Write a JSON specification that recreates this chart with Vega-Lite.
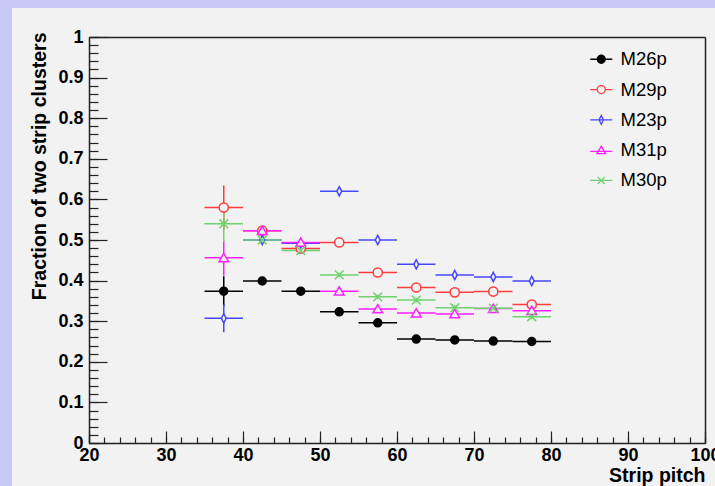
{
  "$schema": "https://vega.github.io/schema/vega-lite/v6.json",
  "width": 703,
  "height": 478,
  "padding": {"left": 12, "top": 8, "right": 0, "bottom": 0},
  "autosize": {"type": "none"},
  "background": "#c9c9f9",
  "data": {
    "values": [
      {"series": "M26p", "pitch": 37.5, "frac": 0.374, "xerr": 2.5, "yerr": 0.037},
      {"series": "M26p", "pitch": 42.5, "frac": 0.399, "xerr": 2.5, "yerr": 0.006},
      {"series": "M26p", "pitch": 47.5, "frac": 0.374, "xerr": 2.5, "yerr": 0.006},
      {"series": "M26p", "pitch": 52.5, "frac": 0.323, "xerr": 2.5, "yerr": 0.006},
      {"series": "M26p", "pitch": 57.5, "frac": 0.296, "xerr": 2.5, "yerr": 0.006},
      {"series": "M26p", "pitch": 62.5, "frac": 0.256, "xerr": 2.5, "yerr": 0.006},
      {"series": "M26p", "pitch": 67.5, "frac": 0.254, "xerr": 2.5, "yerr": 0.006},
      {"series": "M26p", "pitch": 72.5, "frac": 0.251, "xerr": 2.5, "yerr": 0.006},
      {"series": "M26p", "pitch": 77.5, "frac": 0.250, "xerr": 2.5, "yerr": 0.006},
      {"series": "M29p", "pitch": 37.5, "frac": 0.580, "xerr": 2.5, "yerr": 0.054},
      {"series": "M29p", "pitch": 42.5, "frac": 0.523, "xerr": 2.5, "yerr": 0.006},
      {"series": "M29p", "pitch": 47.5, "frac": 0.479, "xerr": 2.5, "yerr": 0.006},
      {"series": "M29p", "pitch": 52.5, "frac": 0.494, "xerr": 2.5, "yerr": 0.006},
      {"series": "M29p", "pitch": 57.5, "frac": 0.420, "xerr": 2.5, "yerr": 0.006},
      {"series": "M29p", "pitch": 62.5, "frac": 0.383, "xerr": 2.5, "yerr": 0.006},
      {"series": "M29p", "pitch": 67.5, "frac": 0.371, "xerr": 2.5, "yerr": 0.006},
      {"series": "M29p", "pitch": 72.5, "frac": 0.373, "xerr": 2.5, "yerr": 0.006},
      {"series": "M29p", "pitch": 77.5, "frac": 0.341, "xerr": 2.5, "yerr": 0.006},
      {"series": "M23p", "pitch": 37.5, "frac": 0.307, "xerr": 2.5, "yerr": 0.034},
      {"series": "M23p", "pitch": 42.5, "frac": 0.500, "xerr": 2.5, "yerr": 0.006},
      {"series": "M23p", "pitch": 47.5, "frac": 0.492, "xerr": 2.5, "yerr": 0.006},
      {"series": "M23p", "pitch": 52.5, "frac": 0.620, "xerr": 2.5, "yerr": 0.006},
      {"series": "M23p", "pitch": 57.5, "frac": 0.500, "xerr": 2.5, "yerr": 0.006},
      {"series": "M23p", "pitch": 62.5, "frac": 0.440, "xerr": 2.5, "yerr": 0.006},
      {"series": "M23p", "pitch": 67.5, "frac": 0.414, "xerr": 2.5, "yerr": 0.006},
      {"series": "M23p", "pitch": 72.5, "frac": 0.409, "xerr": 2.5, "yerr": 0.006},
      {"series": "M23p", "pitch": 77.5, "frac": 0.399, "xerr": 2.5, "yerr": 0.006},
      {"series": "M31p", "pitch": 37.5, "frac": 0.456, "xerr": 2.5, "yerr": 0.044},
      {"series": "M31p", "pitch": 42.5, "frac": 0.523, "xerr": 2.5, "yerr": 0.006},
      {"series": "M31p", "pitch": 47.5, "frac": 0.494, "xerr": 2.5, "yerr": 0.006},
      {"series": "M31p", "pitch": 52.5, "frac": 0.374, "xerr": 2.5, "yerr": 0.006},
      {"series": "M31p", "pitch": 57.5, "frac": 0.330, "xerr": 2.5, "yerr": 0.006},
      {"series": "M31p", "pitch": 62.5, "frac": 0.320, "xerr": 2.5, "yerr": 0.006},
      {"series": "M31p", "pitch": 67.5, "frac": 0.318, "xerr": 2.5, "yerr": 0.006},
      {"series": "M31p", "pitch": 72.5, "frac": 0.331, "xerr": 2.5, "yerr": 0.006},
      {"series": "M31p", "pitch": 77.5, "frac": 0.326, "xerr": 2.5, "yerr": 0.006},
      {"series": "M30p", "pitch": 37.5, "frac": 0.540, "xerr": 2.5, "yerr": 0.045},
      {"series": "M30p", "pitch": 42.5, "frac": 0.500, "xerr": 2.5, "yerr": 0.006},
      {"series": "M30p", "pitch": 47.5, "frac": 0.474, "xerr": 2.5, "yerr": 0.006},
      {"series": "M30p", "pitch": 52.5, "frac": 0.414, "xerr": 2.5, "yerr": 0.006},
      {"series": "M30p", "pitch": 57.5, "frac": 0.360, "xerr": 2.5, "yerr": 0.006},
      {"series": "M30p", "pitch": 62.5, "frac": 0.352, "xerr": 2.5, "yerr": 0.006},
      {"series": "M30p", "pitch": 67.5, "frac": 0.333, "xerr": 2.5, "yerr": 0.006},
      {"series": "M30p", "pitch": 72.5, "frac": 0.332, "xerr": 2.5, "yerr": 0.006},
      {"series": "M30p", "pitch": 77.5, "frac": 0.311, "xerr": 2.5, "yerr": 0.006}
    ]
  },
  "layer": [
    {
      "layer": [
        {
          "mark": {"type": "errorbar", "thickness": 1.5},
          "encoding": {
            "x": {
              "field": "pitch", "type": "quantitative",
              "scale": {"domain": [20, 100], "range": [77, 693], "nice": false, "zero": false},
              "axis": {
                "orient": "bottom", "offset": -43,
                "values": [20, 30, 40, 50, 60, 70, 80, 90, 100],
                "tickSize": -12, "tickWidth": 1.2, "labelPadding": 15,
                "domainWidth": 1.5,
                "title": "Strip pitch", "titleX": 693, "titleY": 38,
                "titleAlign": "right", "titleBaseline": "alphabetic", "titleAngle": 0
              }
            },
            "xError": {"field": "xerr"},
            "y": {
              "field": "frac", "type": "quantitative",
              "scale": {"domain": [0, 1], "range": [435, 29], "nice": false, "zero": false},
              "axis": {
                "orient": "left", "offset": -77,
                "values": [0, 0.1, 0.2, 0.3, 0.4, 0.5, 0.6, 0.7, 0.8, 0.9, 1],
                "format": "~g",
                "tickSize": -18, "tickWidth": 1.2, "labelPadding": 24,
                "domainWidth": 1.5,
                "title": "Fraction of two strip clusters", "titleX": -50, "titleY": 24,
                "titleAngle": -90, "titleAlign": "right", "titleBaseline": "middle"
              }
            },
            "color": {
              "field": "series", "type": "nominal",
              "scale": {"domain": ["M26p", "M29p", "M23p", "M31p", "M30p"], "range": ["#000000", "#ff3c3c", "#4646ff", "#ff1eff", "#6ed26e"]},
              "legend": null
            }
          }
        },
        {
          "mark": {"type": "errorbar", "thickness": 1.5},
          "encoding": {
            "x": {
              "field": "pitch", "type": "quantitative",
              "axis": {
                "orient": "bottom", "offset": -43,
                "values": [20, 22, 24, 26, 28, 30, 32, 34, 36, 38, 40, 42, 44, 46, 48, 50, 52, 54, 56, 58, 60, 62, 64, 66, 68, 70, 72, 74, 76, 78, 80, 82, 84, 86, 88, 90, 92, 94, 96, 98, 100],
                "tickSize": -6, "tickWidth": 1.2, "labels": false, "domain": false, "title": null
              }
            },
            "y": {
              "field": "frac", "type": "quantitative",
              "axis": {
                "orient": "left", "offset": -77,
                "values": [0, 0.02, 0.04, 0.06, 0.08, 0.1, 0.12, 0.14, 0.16, 0.18, 0.2, 0.22, 0.24, 0.26, 0.28, 0.3, 0.32, 0.34, 0.36, 0.38, 0.4, 0.42, 0.44, 0.46, 0.48, 0.5, 0.52, 0.54, 0.56, 0.58, 0.6, 0.62, 0.64, 0.66, 0.68, 0.7, 0.72, 0.74, 0.76, 0.78, 0.8, 0.82, 0.84, 0.86, 0.88, 0.9, 0.92, 0.94, 0.96, 0.98, 1],
                "tickSize": -9, "tickWidth": 1.2, "labels": false, "domain": false, "title": null
              }
            },
            "yError": {"field": "yerr"},
            "color": {"field": "series", "type": "nominal", "legend": null}
          }
        },
        {
          "mark": {"type": "point", "filled": false, "size": 64, "strokeWidth": 1.5, "opacity": 1},
          "encoding": {
            "x": {
              "field": "pitch", "type": "quantitative",
              "axis": {"orient": "top", "offset": -29, "ticks": false, "labels": false, "domainWidth": 1.5, "title": null}
            },
            "y": {
              "field": "frac", "type": "quantitative",
              "axis": {"orient": "right", "offset": -10, "ticks": false, "labels": false, "domainWidth": 1.5, "title": null}
            },
            "color": {"field": "series", "type": "nominal", "legend": null},
            "fill": {
              "field": "series", "type": "nominal",
              "scale": {"domain": ["M26p", "M29p", "M23p", "M31p", "M30p"], "range": ["#000000", "#f2f2f2", "#f2f2f2", "#f2f2f2", "transparent"]},
              "legend": null
            },
            "shape": {
              "field": "series", "type": "nominal",
              "scale": {
                "domain": ["M26p", "M29p", "M23p", "M31p", "M30p"],
                "range": [
                  "M1,0A1,1 0 1,1 -1,0A1,1 0 1,1 1,0Z",
                  "M1.15,0A1.15,1.15 0 1,1 -1.15,0A1.15,1.15 0 1,1 1.15,0Z",
                  "M0,-1.15L0.6,0L0,1.15L-0.6,0Z",
                  "M0,-1.1L1.2,0.95L-1.2,0.95Z",
                  "M-1.1,-1.1L1.1,1.1M-1.1,1.1L1.1,-1.1"
                ]
              },
              "legend": null
            }
          }
        }
      ],
      "resolve": {"axis": {"x": "independent", "y": "independent"}}
    },
    {
      "mark": {"type": "point", "filled": false, "size": 64, "strokeWidth": 1.3, "opacity": 0},
      "encoding": {
        "x": {"field": "pitch", "type": "quantitative", "axis": null},
        "y": {"field": "frac", "type": "quantitative", "axis": null},
        "color": {
          "field": "series", "type": "nominal",
          "scale": {"domain": ["M26p", "M29p", "M23p", "M31p", "M30p"], "range": ["#000000", "#ff3c3c", "#4646ff", "#ff1eff", "#6ed26e"]},
          "legend": {"orient": "none", "legendX": 580, "legendY": 42, "title": null}
        },
        "fill": {
          "field": "series", "type": "nominal",
          "scale": {"domain": ["M26p", "M29p", "M23p", "M31p", "M30p"], "range": ["#000000", "#f2f2f2", "#f2f2f2", "#f2f2f2", "transparent"]},
          "legend": {"orient": "none", "legendX": 580, "legendY": 42, "title": null}
        },
        "shape": {
          "field": "series", "type": "nominal",
          "scale": {
            "domain": ["M26p", "M29p", "M23p", "M31p", "M30p"],
            "range": [
              "M-2.75,0L2.75,0M1,0A1,1 0 1,1 -1,0A1,1 0 1,1 1,0Z",
              "M-2.75,0L-1,0M1,0L2.75,0M1,0A1,1 0 1,1 -1,0A1,1 0 1,1 1,0Z",
              "M-2.75,0L2.75,0M0,-1.1L0.55,0L0,1.1L-0.55,0Z",
              "M-2.75,0.3L2.75,0.3M0,-1L1.1,0.85L-1.1,0.85Z",
              "M-2.75,0L2.75,0M-0.9,-0.9L0.9,0.9M-0.9,0.9L0.9,-0.9"
            ]
          },
          "legend": {"orient": "none", "legendX": 580, "legendY": 42, "title": null}
        }
      }
    }
  ],
  "resolve": {
    "scale": {"color": "independent", "fill": "independent", "shape": "independent"},
    "axis": {"x": "independent", "y": "independent"}
  },
  "config": {
    "view": {"fill": "#f2f2f2", "stroke": null},
    "axis": {
      "grid": false,
      "labelFont": "Liberation Sans", "labelFontSize": 18, "labelFontWeight": "bold", "labelColor": "#000000",
      "titleFont": "Liberation Sans", "titleFontSize": 19.5, "titleFontWeight": "bold", "titleColor": "#000000",
      "domainColor": "#222222", "tickColor": "#222222",
      "labelFlush": false, "labelOverlap": false
    },
    "legend": {
      "labelFont": "Liberation Sans", "labelFontSize": 18.5, "labelColor": "#000000",
      "symbolSize": 64, "symbolStrokeWidth": 1.3, "symbolOpacity": 1,
      "labelOffset": 10, "rowPadding": 11.3, "padding": 0
    }
  }
}
